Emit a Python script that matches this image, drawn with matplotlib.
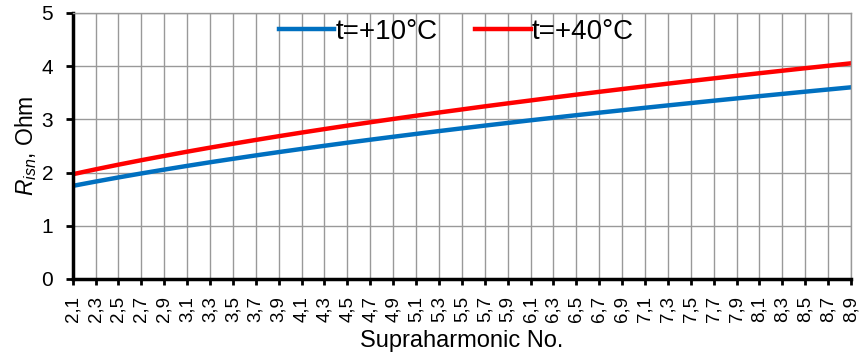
import numpy as np
import matplotlib.pyplot as plt

plt.rcParams['font.family'] = ['Liberation Sans', 'DejaVu Sans']
plt.rcParams['mathtext.fontset'] = 'custom'
plt.rcParams['mathtext.rm'] = 'Liberation Sans'
plt.rcParams['mathtext.it'] = 'Liberation Sans:italic'

# Supraharmonic numbers and resistance values (Ohm)
harmonic = [2.1, 2.3, 2.5, 2.7, 2.9, 3.1, 3.3, 3.5, 3.7, 3.9, 4.1, 4.3, 4.5, 4.7, 4.9,
            5.1, 5.3, 5.5, 5.7, 5.9, 6.1, 6.3, 6.5, 6.7, 6.9, 7.1, 7.3, 7.5, 7.7, 7.9,
            8.1, 8.3, 8.5, 8.7, 8.9]
r_10 = [1.750, 1.831, 1.909, 1.984, 2.056, 2.126, 2.194, 2.259, 2.323, 2.385, 2.445,
        2.504, 2.562, 2.618, 2.673, 2.727, 2.780, 2.832, 2.883, 2.933, 2.983, 3.031,
        3.079, 3.126, 3.172, 3.218, 3.263, 3.307, 3.351, 3.394, 3.437, 3.479, 3.521,
        3.562, 3.603]
r_40 = [1.969, 2.061, 2.149, 2.233, 2.314, 2.393, 2.469, 2.542, 2.614, 2.684, 2.752,
        2.818, 2.883, 2.946, 3.008, 3.069, 3.129, 3.187, 3.245, 3.301, 3.356, 3.411,
        3.465, 3.518, 3.570, 3.621, 3.672, 3.722, 3.771, 3.820, 3.868, 3.915, 3.962,
        4.008, 4.054]
tick_labels = [f'{v:.1f}'.replace('.', ',') for v in harmonic]

fig = plt.figure(figsize=(8.59, 3.55), dpi=100)
ax = fig.add_axes([0.0846, 0.2141, 0.9061, 0.7493])

ax.plot(harmonic, r_10, color='#0070C0', lw=3.2, label='t=+10°C')
ax.plot(harmonic, r_40, color='#FF0000', lw=3.2, label='t=+40°C')

ax.set_xlim(2.1, 8.9)
ax.set_ylim(0, 5)
ax.set_xticks(harmonic)
ax.set_xticklabels(tick_labels, rotation=90, fontsize=13.5)
ax.set_yticks(range(6))
ax.tick_params(axis='y', labelsize=15, length=5, width=2, pad=9, direction='out')
ax.tick_params(axis='x', length=4, width=2, pad=8, direction='out')

ax.grid(True, color='#999999', lw=1)
for s in ['top', 'right']:
    ax.spines[s].set_color('#999999')
    ax.spines[s].set_linewidth(1)
for s in ['left', 'bottom']:
    ax.spines[s].set_linewidth(2.5)

ax.set_xlabel('Supraharmonic No.', fontsize=17, labelpad=6)
ax.set_ylabel(r'$R_{isn}$, Ohm', fontsize=16.5, labelpad=2)

leg = ax.legend(loc='center', bbox_to_anchor=(0.493, 0.928), ncol=2, frameon=False,
                fontsize=20, handlelength=2.0, handletextpad=0.05, columnspacing=1.35,
                borderpad=0, borderaxespad=0)

fig.savefig('out.png', dpi=100)
